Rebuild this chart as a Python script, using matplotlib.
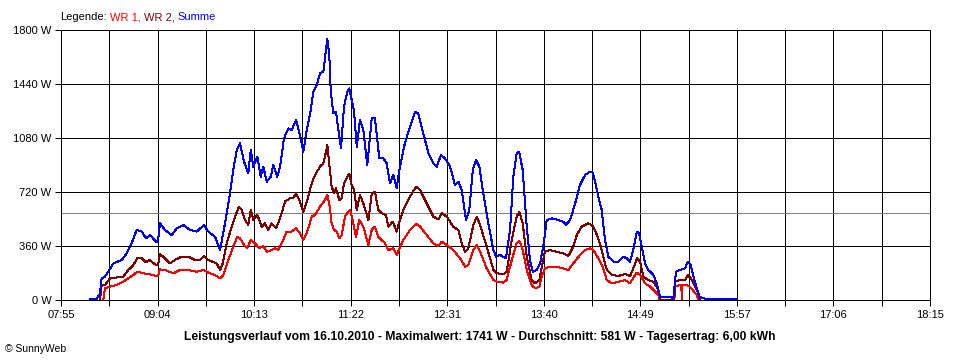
import matplotlib

matplotlib.use("Agg")

import matplotlib.pyplot as plt

plt.rcParams["font.family"] = ["Liberation Sans", "DejaVu Sans"]

# time axis: 07:55 .. 18:15 in minutes since midnight, 18 grid divisions
T_START = 475
T_END = 1095
N_DIV = 18
X_LABELS = ["07:55", "09:04", "10:13", "11:22", "12:31", "13:40", "14:49", "15:57", "17:06", "18:15"]
Y_TICKS = [0, 360, 720, 1080, 1440, 1800]
AVERAGE_W = 581

LEGEND_PARTS = [("Legende:", "black"), ("WR 1,", "#ff0000"), ("WR 2,", "#800000"), ("Summe", "#0000ff")]
TITLE = "Leistungsverlauf vom 16.10.2010 - Maximalwert: 1741 W - Durchschnitt: 581 W - Tagesertrag: 6,00 kWh"

# Summe (blue)
sum_t = [495.7, 500.5, 502.8, 504.0, 506.4, 508.7, 512.3, 518.3, 521.9, 525.4, 529.0, 532.6, 535.6, 538.5,
         542.8, 544.2, 545.6, 549.2, 554.0, 557.6, 562.3, 567.0, 571.8, 577.0, 580.1, 584.9, 588.5, 592.0,
         595.6, 597.9, 600.4, 602.7, 605.6, 608.6, 610.4, 612.2, 615.1, 617.5, 619.3, 621.8, 624.6, 626.5,
         629.3, 631.3, 634.1, 637.2, 639.6, 642.7, 645.5, 647.9, 650.3, 653.2, 655.0, 657.4, 659.8, 662.2,
         664.1, 665.0, 666.4, 667.4, 669.3, 671.2, 672.9, 674.8, 676.9, 679.3, 680.7, 682.4, 684.1, 686.0,
         688.3, 690.7, 693.5, 696.7, 699.0, 700.7, 702.1, 705.0, 707.4, 709.7, 712.1, 714.5, 716.4, 719.7,
         724.0, 727.6, 729.9, 733.5, 737.1, 740.6, 743.1, 746.1, 749.0, 752.6, 756.1, 758.5, 760.9, 764.0,
         766.3, 768.8, 771.1, 773.5, 775.9, 779.9, 783.5, 785.4, 788.2, 792.5, 795.4, 797.7, 800.1, 801.8,
         804.4, 807.3, 809.6, 811.6, 814.4, 816.8, 819.1, 821.5, 825.1, 829.8, 833.4, 835.3, 838.2, 841.7,
         845.3, 848.9, 852.4, 854.1, 856.0, 858.4, 860.8, 863.1, 865.5, 869.1, 872.6, 876.2, 878.6, 881.0,
         883.8, 885.8, 887.4, 889.3, 891.7, 894.0, 897.6, 900.0, 901.9, 902.4, 909.5, 911.9, 913.8, 916.7,
         920.2, 922.2, 924.3, 926.2, 928.6, 930.4, 933.3, 936.9, 957.1]
sum_w = [4, 7, 44, 144, 156, 189, 244, 267, 311, 378, 467, 456, 411, 433,
         389, 389, 511, 467, 433, 478, 500, 467, 456, 500, 456, 422, 333, 511,
         711, 867, 1000, 1044, 922, 844, 1000, 889, 956, 822, 889, 789, 822, 900,
         822, 889, 1078, 1144, 1133, 1200, 1100, 989, 1133, 1267, 1389, 1433, 1511, 1522,
         1667, 1741, 1633, 1400, 1244, 1256, 1133, 1011, 1289, 1389, 1411, 1333, 1256, 1022,
         1200, 1133, 900, 1211, 1211, 1067, 944, 944, 911, 778, 833, 744, 867, 1022,
         1156, 1256, 1244, 1111, 978, 911, 889, 967, 944, 889, 767, 789, 733, 533,
         600, 867, 933, 889, 733, 511, 333, 289, 300, 278, 467, 822, 978, 989,
         867, 489, 267, 189, 200, 244, 356, 533, 544, 533, 522, 500, 533, 640,
         767, 833, 856, 856, 789, 689, 600, 400, 289, 256, 256, 289, 278, 256,
         356, 456, 444, 356, 244, 200, 167, 111, 44, 22, 22, 11, 189, 200,
         211, 256, 233, 156, 78, 22, 11, 7, 7]

# WR 1 (red)
wr1_t = [505.2, 506.4, 510.0, 514.7, 519.5, 523.0, 526.6, 529.4, 533.7, 538.5, 543.3, 544.2, 545.6, 550.4,
         555.1, 559.9, 565.8, 571.8, 577.0, 580.1, 584.9, 588.5, 590.8, 594.4, 597.9, 600.8, 602.7, 605.6,
         607.9, 610.4, 613.4, 616.5, 619.3, 621.8, 625.3, 627.7, 630.0, 632.5, 636.0, 639.6, 642.7, 645.5,
         647.9, 650.7, 653.9, 656.2, 659.8, 663.4, 665.0, 666.4, 668.1, 669.8, 671.7, 673.6, 675.3, 677.6,
         680.0, 681.2, 683.1, 685.5, 687.8, 690.7, 694.3, 696.7, 699.0, 701.4, 703.8, 706.2, 708.5, 712.1,
         714.5, 716.0, 719.2, 724.0, 728.3, 731.2, 735.9, 740.6, 744.2, 746.6, 750.2, 754.9, 759.7, 763.3,
         765.6, 769.2, 771.6, 774.0, 778.7, 783.5, 785.9, 790.6, 793.0, 796.6, 800.1, 802.0, 804.4, 807.3,
         810.8, 813.2, 816.3, 818.0, 820.3, 823.9, 828.7, 833.4, 837.0, 840.5, 845.3, 848.9, 852.4, 854.8,
         858.4, 861.5, 864.4, 867.9, 872.6, 877.4, 881.0, 883.8, 885.8, 888.1, 891.7, 895.3, 898.8, 901.2,
         901.9, 912.6, 913.1, 916.7, 917.6, 917.9, 918.3, 920.2, 922.6, 925.7, 928.6, 929.7]
wr1_w = [0, 78, 89, 100, 122, 144, 167, 189, 178, 171, 160, 160, 204, 196,
         178, 200, 200, 189, 200, 182, 167, 144, 167, 267, 356, 422, 411, 367,
         344, 400, 378, 344, 360, 322, 333, 344, 333, 378, 456, 456, 478, 444,
         400, 456, 556, 567, 622, 667, 700, 644, 511, 467, 456, 411, 433, 556,
         589, 600, 533, 422, 533, 489, 367, 467, 489, 422, 400, 378, 333, 344,
         300, 333, 400, 467, 507, 489, 433, 378, 360, 389, 367, 333, 278, 222,
         233, 333, 367, 322, 211, 133, 122, 116, 133, 267, 378, 396, 333, 200,
         100, 78, 89, 156, 211, 222, 222, 211, 200, 244, 300, 333, 344, 333,
         278, 222, 133, 111, 122, 133, 111, 156, 182, 167, 111, 89, 56, 33,
         0, 0, 89, 100, 100, 0, 100, 100, 96, 67, 33, 0]

# WR 2 (dark red)
wr2_t = [502.8, 504.0, 506.4, 510.0, 515.9, 519.5, 523.0, 526.6, 529.4, 532.6, 535.6, 538.0, 542.8, 544.2,
         545.6, 549.2, 552.8, 556.3, 561.1, 565.8, 570.6, 574.2, 577.0, 580.1, 586.1, 588.5, 590.4, 593.2,
         596.8, 599.2, 602.0, 603.9, 606.3, 608.6, 610.4, 612.2, 615.1, 618.2, 620.6, 622.9, 625.3, 628.4,
         631.3, 634.8, 638.4, 640.7, 642.7, 645.5, 647.9, 650.7, 653.9, 656.2, 659.8, 662.2, 664.1, 665.0,
         666.4, 668.1, 669.8, 671.2, 673.6, 675.3, 676.9, 679.3, 680.7, 682.4, 684.1, 686.0, 688.3, 690.7,
         694.3, 696.7, 699.0, 701.4, 703.8, 706.9, 708.5, 711.7, 714.5, 716.0, 719.2, 724.0, 728.3, 731.2,
         735.9, 740.6, 744.2, 746.6, 750.2, 754.9, 758.5, 760.9, 763.3, 765.6, 769.2, 771.6, 774.0, 778.7,
         783.5, 785.9, 790.6, 793.0, 796.6, 800.1, 802.0, 804.4, 807.3, 810.8, 813.2, 816.3, 818.0, 820.3,
         823.9, 828.7, 833.4, 837.0, 840.5, 843.0, 846.5, 851.2, 853.7, 856.0, 859.1, 861.9, 864.4, 867.9,
         872.6, 877.4, 881.0, 883.8, 885.8, 888.1, 890.5, 894.0, 897.6, 900.0, 901.9, 902.4, 912.6, 913.1,
         916.7, 920.2, 922.2, 924.3, 927.4, 929.7, 930.9]
wr2_w = [0, 100, 100, 144, 151, 156, 200, 233, 278, 278, 251, 267, 233, 233,
         307, 278, 244, 267, 289, 289, 267, 267, 293, 267, 244, 200, 244, 378,
         489, 556, 622, 600, 533, 500, 600, 533, 567, 489, 511, 467, 511, 478,
         544, 656, 678, 678, 711, 656, 589, 667, 778, 833, 889, 911, 989, 1033,
         911, 756, 711, 744, 667, 678, 778, 822, 840, 767, 733, 600, 700, 644,
         533, 711, 722, 600, 578, 567, 489, 522, 456, 511, 600, 689, 756, 733,
         644, 556, 538, 578, 556, 489, 467, 378, 322, 344, 500, 556, 500, 356,
         200, 178, 171, 189, 400, 556, 589, 511, 289, 133, 111, 133, 222, 322,
         333, 322, 311, 293, 356, 433, 489, 511, 500, 467, 389, 289, 200, 167,
         160, 173, 160, 222, 278, 256, 156, 133, 122, 89, 44, 0, 0, 122,
         133, 133, 167, 144, 89, 44, 0]

LW = 0.72  # one pixel at 100 dpi


def main() -> None:
    fig = plt.figure(figsize=(9.6, 3.6), dpi=100)
    ax = fig.add_axes([61 / 960, 60 / 360, 869 / 960, 270 / 360])

    step = (T_END - T_START) / N_DIV
    major = [T_START + 2 * k * step for k in range(N_DIV // 2 + 1)]
    minor = [T_START + (2 * k + 1) * step for k in range(N_DIV // 2)]
    ax.set_xlim(T_START, T_END)
    ax.set_ylim(Y_TICKS[0], Y_TICKS[-1])
    ax.set_xticks(major)
    ax.set_xticklabels(X_LABELS)
    ax.set_xticks(minor, minor=True)
    ax.set_yticks(Y_TICKS)
    ax.set_yticklabels([f"{v} W" for v in Y_TICKS])

    ax.grid(True, which="both", color="black", linewidth=LW, antialiased=False)
    ax.set_axisbelow(True)
    ax.tick_params(which="both", length=4, width=LW, color="black", labelsize=8, pad=3)
    for sp in ax.spines.values():
        sp.set_linewidth(LW)
        sp.set_antialiased(False)

    ax.axhline(AVERAGE_W, color="#808080", linewidth=LW, antialiased=False, zorder=1.5)

    ax.plot(wr1_t, wr1_w, color="#ff0000", linewidth=LW, antialiased=False, zorder=3)
    ax.plot(wr2_t, wr2_w, color="#800000", linewidth=LW, antialiased=False, zorder=3)
    ax.plot(sum_t, sum_w, color="#0000ff", linewidth=LW, antialiased=False, zorder=3)

    # multi-coloured legend line above the plot
    renderer = fig.canvas.get_renderer()
    x = 60 / 960
    gap = 3 / 960
    for s, c in LEGEND_PARTS:
        t = fig.text(x, 1 - 17 / 360, s, color=c, fontsize=8, va="center", ha="left")
        x += t.get_window_extent(renderer).width / fig.bbox.width + gap

    fig.text(0.5, 1 - 337 / 360, TITLE, fontsize=8.7, fontweight="bold", ha="center", va="center")
    fig.text(5 / 960, 1 - 349 / 360, "\u00a9 SunnyWeb", fontsize=7.5, ha="left", va="center")

    fig.savefig("out.png", dpi=100)
    plt.close(fig)


if __name__ == "__main__":
    main()
